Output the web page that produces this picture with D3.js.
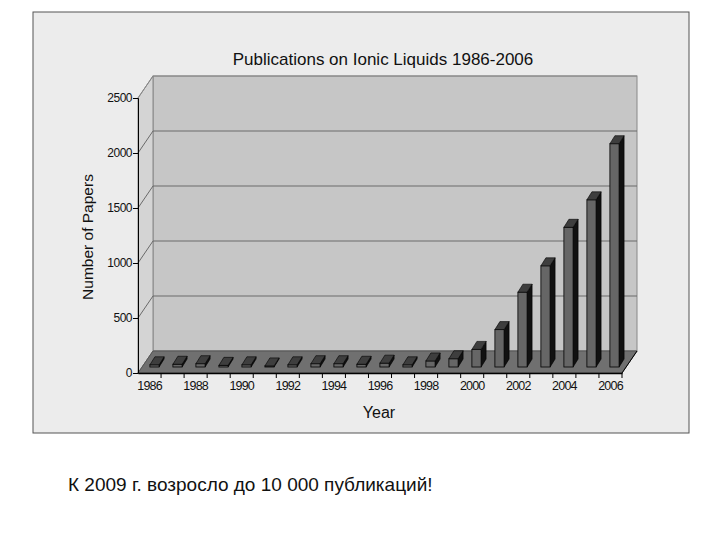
<!DOCTYPE html>
<html><head><meta charset="utf-8">
<script src="https://cdn.jsdelivr.net/npm/d3@7"></script>
<style>body{margin:0;background:#fff}</style></head>
<body><svg id="c" width="720" height="540"></svg>
<script>
const years = d3.range(1986, 2007);
const papers = [20,25,30,15,20,10,20,30,30,25,35,20,55,75,160,340,680,920,1270,1520,2030];
const yTicks = [0,500,1000,1500,2000,2500];
const xTickLabels = years.filter(y => y % 2 === 0);

const svg = d3.select("#c");
svg.append("rect").attr("x",33).attr("y",12).attr("width",656).attr("height",421)
  .attr("fill","#ececec").attr("stroke","#555").attr("stroke-width",1);

const DX = 15, DY = -22;
const x = d3.scaleBand().domain(years).range([140,623]).paddingInner(0.6).paddingOuter(0.3);
const y = d3.scaleLinear().domain([0,2500]).range([373,98]);
const x0 = 138, x1 = 622;
const g = svg.append("g");
g.append("rect").attr("x",x0+DX).attr("y",y(2500)+DY).attr("width",x1-x0).attr("height",y(0)-y(2500))
  .attr("fill","#c6c6c6").attr("stroke","#888");
g.append("path").attr("d",`M${x0},${y(0)}L${x0},${y(2500)}L${x0+DX},${y(2500)+DY}L${x0+DX},${y(0)+DY}Z`)
  .attr("fill","#d4d4d4").attr("stroke","#888");
yTicks.forEach(t=>{
  g.append("path").attr("d",`M${x0},${y(t)}L${x0+DX},${y(t)+DY}L${x1+DX},${y(t)+DY}`)
   .attr("fill","none").attr("stroke", t===0||t===2500 ? "#888" : "#6a6a6a").attr("stroke-width",1);
});
g.append("path").attr("d",`M${x0},${y(0)}L${x0+DX},${y(0)+DY}L${x1+DX},${y(0)+DY}L${x1},${y(0)}Z`)
  .attr("fill","#707070").attr("stroke","#555");
const bdx = 5, bdy = -8, base = y(0)-6;
const bw = x.bandwidth();
papers.forEach((v,i)=>{
  const bx = x(years[i]) + 3, top = base - (y(0)-y(v));
  g.append("path").attr("d",`M${bx+bw},${base}L${bx+bw+bdx},${base+bdy}L${bx+bw+bdx},${top+bdy}L${bx+bw},${top}Z`)
    .attr("fill","#111").attr("stroke","#000").attr("stroke-width",0.6);
  g.append("rect").attr("x",bx).attr("y",top).attr("width",bw).attr("height",base-top)
    .attr("fill","#666").attr("stroke","#000").attr("stroke-width",0.8);
  g.append("path").attr("d",`M${bx},${top}L${bx+bdx},${top+bdy}L${bx+bw+bdx},${top+bdy}L${bx+bw},${top}Z`)
    .attr("fill","#3e3e3e").attr("stroke","#000").attr("stroke-width",0.6);
});
const ya = d3.axisLeft(y).tickValues(yTicks).tickFormat(d3.format("d")).tickSize(5).tickPadding(1);
const yg = svg.append("g").attr("transform",`translate(${x0},0)`).call(ya);
yg.select(".domain").attr("stroke","#000");
yg.selectAll("text").attr("font-family","Arial, Liberation Sans").attr("font-size",12).attr("fill","#111").attr("letter-spacing","-0.5");
const xb = d3.scaleBand().domain(years).range([x0,x1]);
const xa = d3.axisBottom(xb).tickValues(xTickLabels).tickSize(0).tickPadding(8);
const xg = svg.append("g").attr("transform",`translate(0,${y(0)})`).call(xa);
xg.select(".domain").attr("stroke","#000").attr("stroke-width",1.5);
xg.selectAll("text").attr("font-family","Arial, Liberation Sans").attr("font-size",12.5).attr("fill","#111").attr("letter-spacing","-0.8");
years.forEach(yr=>{
  svg.append("line").attr("x1",xb(yr)+xb.bandwidth()).attr("x2",xb(yr)+xb.bandwidth())
    .attr("y1",y(0)).attr("y2",y(0)+5).attr("stroke","#000");
});
svg.append("line").attr("x1",x1).attr("y1",y(0)).attr("x2",x1+DX).attr("y2",y(0)+DY).attr("stroke","#000");
const T = (t,xx,yy,s,w,a)=>svg.append("text").attr("x",xx).attr("y",yy).text(t)
  .attr("font-family","Arial, Liberation Sans").attr("font-size",s).attr("font-weight",w).attr("text-anchor",a||"middle").attr("fill","#111");
T("Publications on Ionic Liquids 1986-2006",383,65,17,"500");
T("Year",379,418,16,"500");
T("Number of Papers",0,0,15.5,"500").attr("transform","translate(93,237) rotate(-90)");
T("К 2009 г. возросло до 10 000 публикаций!",68,491,19,"500","start");
</script></body></html>
